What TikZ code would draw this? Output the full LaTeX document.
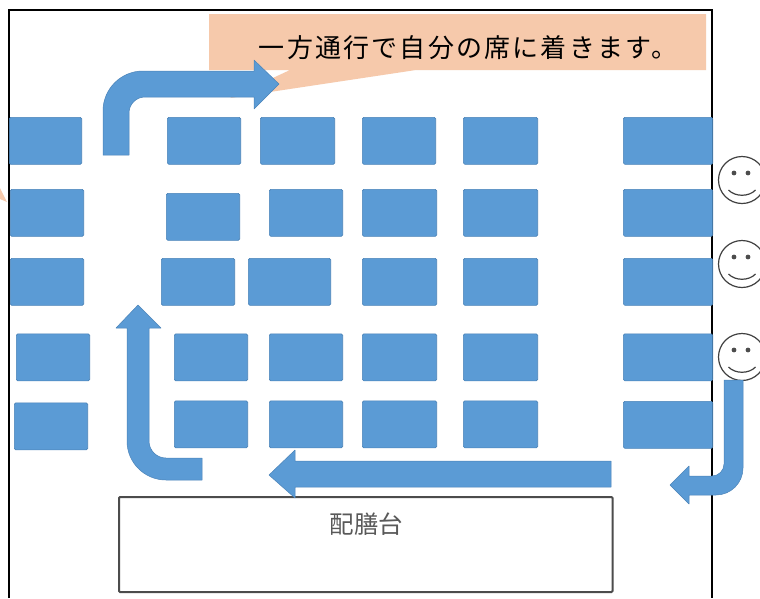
\documentclass[tikz,border=0pt]{standalone}
\usepackage{fontspec}
\newfontfamily\cjk{Noto Sans CJK JP}
\usetikzlibrary{positioning}
\definecolor{seatblue}{HTML}{5B9BD5}
\definecolor{seatline}{HTML}{4A83B8}
\definecolor{notepeach}{HTML}{F6C9AB}
\tikzset{
  seat/.style={rectangle,rounded corners=1.5pt,fill=seatblue,draw=seatline,line width=.7pt,
    anchor=north west,inner sep=0pt,minimum height=47pt},
  flow/.style={fill=seatblue,draw=seatline,line width=.5pt,line join=round},
  face/.style={circle,draw=black!75,line width=1.2pt,fill=white,minimum size=47pt,inner sep=0pt},
}
\begin{document}
\begin{tikzpicture}[x=1pt,y=-1pt]
  \clip (0,0) rectangle (760,598);
  \fill[white] (0,0) rectangle (760,598);
  % room
  \draw[line width=2.8pt] (9,598) -- (9,10) -- (712,10) -- (712,598);
  % note
  \fill[notepeach] (209,14) -- (706,14) -- (706,70) -- (416,70) -- (230,98)
    -- (290,70) -- (209,70) -- cycle;
  \fill[notepeach] (0,188) -- (7,202) -- (0,199) -- cycle;
  \node (note) at (468,48) {\cjk\addfontfeature{LetterSpace=8.5}\fontsize{26}{30}\selectfont 一方通行で自分の席に着きます。};
  % seats, row by row
  \foreach \sx/\sw [count=\i] in {9/72.3,167/73.3,260/74.3,362/73.3,463/74.3,623/89.3}
    \node[seat,minimum width=\sw pt] (a\i) at (\sx,117) {};
  \foreach \sx/\sy/\sw [count=\i] in {10/189/73.3,166/193/73.3,269/189/73.3,362/189/74.3,463/189/74.3,623/189/89.3}
    \node[seat,minimum width=\sw pt] (b\i) at (\sx,\sy) {};
  \foreach \sx/\sw [count=\i] in {10/73.3,161/73.3,248/82.3,362/74.3,463/74.3,623/89.3}
    \node[seat,minimum width=\sw pt] (c\i) at (\sx,258) {};
  \foreach \sx/\sw [count=\i] in {16/73.3,174/73.3,269/73.3,362/74.3,463/74.3,623/89.3}
    \node[seat,minimum width=\sw pt] (d\i) at (\sx,333.5) {};
  \foreach \sx/\sy/\sw [count=\i] in {14/402.5/73.3,174/400.5/73.3,269/400.5/73.3,362/400.5/74.3,463/400.5/74.3,623/401/89.3}
    \node[seat,minimum width=\sw pt] (e\i) at (\sx,\sy) {};
  % serving table
  \node[rectangle,draw=black!70,line width=2pt,fill=white,rounded corners=1pt,anchor=north west,
    minimum width=493.5pt,minimum height=95pt,inner sep=0pt] (table) at (118,496) {};
  \node[text=black!65] (tablename) at (366.5,524) {\cjk\fontsize{24.5}{28}\selectfont 配膳台};
  % route
  \draw[flow] (103,155) -- (103,111) arc[start angle=180,end angle=270,radius=40] -- (254,71)
    -- (254,60) -- (279,84) -- (254,109) -- (254,97) -- (145,97)
    arc[start angle=270,end angle=180,radius=16] -- (129,155) -- cycle;
  \draw[flow] (202,458) -- (166,458) arc[start angle=90,end angle=180,radius=17] -- (149,328)
    -- (161,328) -- (138,305) -- (116,328) -- (127,328) -- (127,441)
    arc[start angle=180,end angle=90,radius=39] -- (202,480) -- cycle;
  \draw[flow] (611,461) -- (295,461) -- (295,450) -- (269,475) -- (295,498) -- (295,487) -- (611,487) -- cycle;
  % people
  \foreach \fy [count=\i] in {180,264,357}{
    \node[face] (face\i) at (742,\fy) {};
    \fill[black!70] (734,\fy-7) circle (2.4pt) (748,\fy-7) circle (2.4pt);
    \draw[black!75,line width=1.2pt] (728.5,\fy+10) .. controls (735,\fy+17) and (749,\fy+17) .. (755.5,\fy+10);
  }
  \draw[flow] (724,380) -- (743,380) -- (743,468) arc[start angle=0,end angle=90,radius=27] -- (689,495)
    -- (689,504) -- (670,485) -- (689,466) -- (689,476) -- (712,476)
    arc[start angle=90,end angle=0,radius=12] -- cycle;
\end{tikzpicture}
\end{document}
